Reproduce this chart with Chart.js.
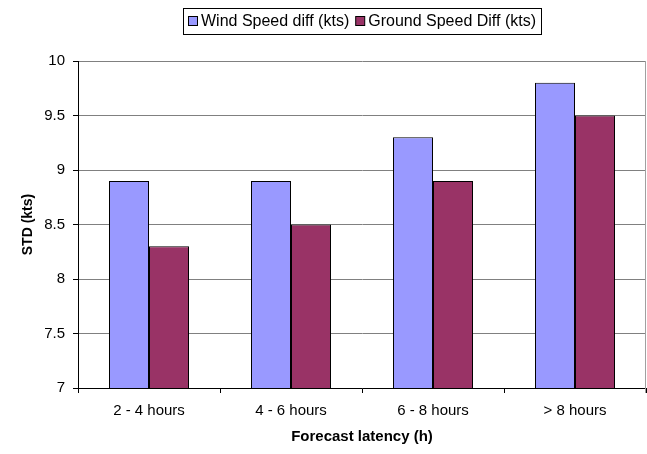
<!DOCTYPE html>
<html>
<head>
<meta charset="utf-8">
<script src="https://cdn.jsdelivr.net/npm/chart.js@4"></script>
<style>
html,body{margin:0;padding:0;background:#fff;}
#wrap{width:647px;height:454px;position:relative;}
</style>
</head>
<body>
<div id="wrap"><canvas id="c"></canvas></div>
<script>
const categories = ["2 - 4 hours", "4 - 6 hours", "6 - 8 hours", "> 8 hours"];
const windSpeedDiff = [8.9, 8.9, 9.3, 9.8];
const groundSpeedDiff = [8.3, 8.5, 8.9, 9.5];
const seriesNames = ["Wind Speed diff (kts)", "Ground Speed Diff (kts)"];
const yTicks = { min: 7, max: 10, step: 0.5 };
const xTitle = "Forecast latency (h)";
const yTitle = "STD (kts)";

const FONT = "'Liberation Sans', Arial, sans-serif";

const frameLegend = {
  id: 'frameLegend',
  afterDraw(chart) {
    const ctx = chart.ctx;
    const a = chart.chartArea;
    ctx.save();
    ctx.strokeStyle = '#a0a0a0';
    ctx.lineWidth = 1;
    ctx.beginPath();
    ctx.moveTo(Math.round(a.right) - 0.5, a.top);
    ctx.lineTo(Math.round(a.right) - 0.5, a.bottom + 5);
    ctx.stroke();
    ctx.font = '16px ' + FONT;
    ctx.textBaseline = 'middle';
    ctx.textAlign = 'left';
    const ds = chart.data.datasets;
    const sq = 9, gapSq = 4, gapItem = 6;
    let widths = ds.map(d => ctx.measureText(d.label).width);
    let total = ds.reduce((s, d, i) => s + sq + gapSq + widths[i], 0) + gapItem * (ds.length - 1);
    const boxL = 183, boxR = 541;
    let x = Math.round((boxL + boxR) / 2 - total / 2);
    const cy = 21;
    ds.forEach((d, i) => {
      ctx.fillStyle = d.backgroundColor;
      ctx.fillRect(x + 0.5, cy - 4.5, sq, sq);
      ctx.strokeStyle = '#000';
      ctx.strokeRect(x + 0.5, cy - 4.5, sq, sq);
      x += sq + gapSq;
      ctx.fillStyle = '#000';
      ctx.fillText(d.label, x, cy + 1);
      x += widths[i] + gapItem;
    });
    ctx.strokeStyle = '#000';
    ctx.strokeRect(boxL + 0.5, 8.5, boxR - boxL, 26);
    ctx.restore();
  }
};

new Chart(document.getElementById('c'), {
  type: 'bar',
  data: {
    labels: categories,
    datasets: [
      { label: seriesNames[0], data: windSpeedDiff, backgroundColor: '#9999FF', borderColor: '#000', borderWidth: 1, borderSkipped: false, inflateAmount: 0 },
      { label: seriesNames[1], data: groundSpeedDiff, backgroundColor: '#993366', borderColor: '#000', borderWidth: 1, borderSkipped: false, inflateAmount: 0 }
    ]
  },
  options: {
    responsive: true,
    maintainAspectRatio: false,
    animation: false,
    datasets: { bar: { categoryPercentage: 80 / 142, barPercentage: 1.0 } },
    layout: { padding: { top: 61, right: 1, left: 0, bottom: 0 } },
    plugins: { legend: { display: false }, tooltip: { enabled: false } },
    scales: {
      x: {
        grid: { display: true, drawOnChartArea: false, tickLength: 5, tickColor: '#000', offset: true },
        border: { color: '#000', width: 1 },
        ticks: { color: '#000', font: { family: FONT, size: 15 }, padding: 9, maxRotation: 0 },
        title: { display: true, text: xTitle, color: '#000', font: { family: FONT, size: 15, weight: 'bold' }, padding: { top: 4, bottom: 8 } },
        afterFit(scale) { scale.height = 66; }
      },
      y: {
        min: yTicks.min, max: yTicks.max,
        grid: { color: '#808080', tickLength: 5, tickColor: '#000' },
        border: { color: '#000', width: 1 },
        ticks: { stepSize: yTicks.step, color: '#000', font: { family: FONT, size: 15 }, padding: 8,
          callback: v => String(Math.round(v * 10) / 10) },
        title: { display: true, text: yTitle, color: '#000', font: { family: FONT, size: 14, weight: 'bold' }, padding: { top: 20, bottom: 4 } },
        afterFit(scale) { scale.width = 78; }
      }
    }
  },
  plugins: [frameLegend]
});
</script>
</body>
</html>
